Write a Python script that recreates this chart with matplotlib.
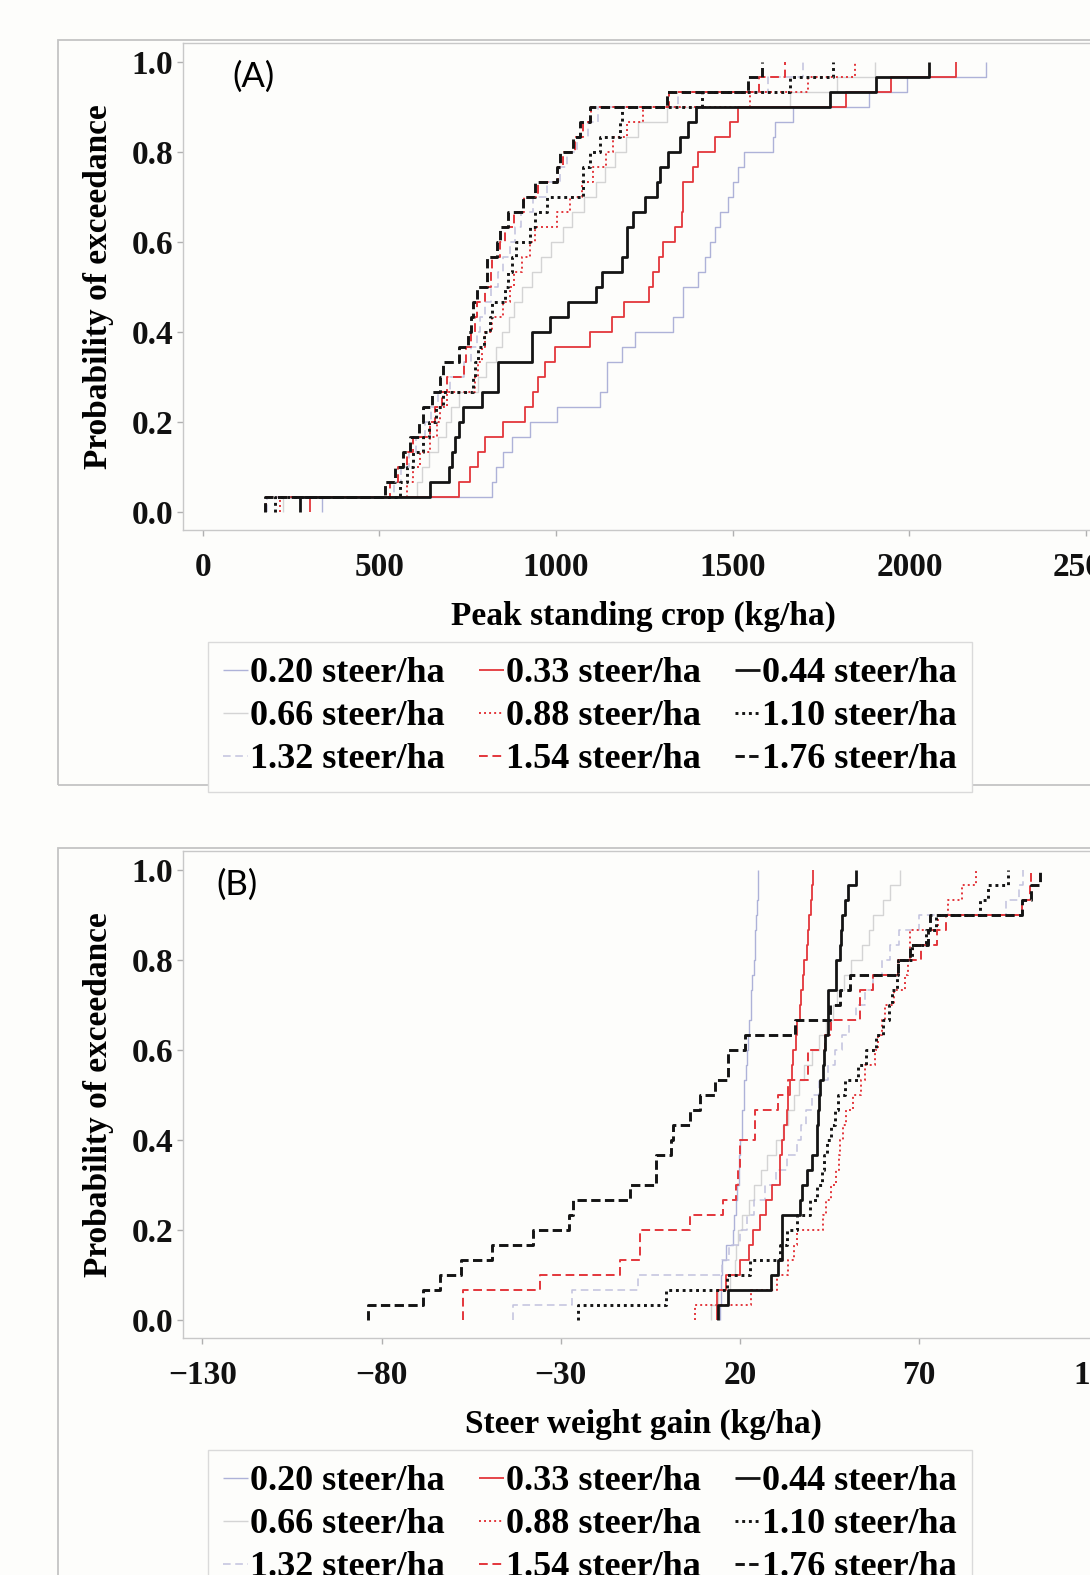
import numpy as np, matplotlib
matplotlib.use("Agg")
import matplotlib.pyplot as plt
from matplotlib.patches import Rectangle
from matplotlib.ticker import FormatStrFormatter

plt.rcParams['font.family'] = ['Liberation Serif', 'DejaVu Serif']
plt.rcParams['font.weight'] = 'bold'
plt.rcParams['axes.labelweight'] = 'bold'
plt.rcParams['axes.unicode_minus'] = True

rates = ["0.20", "0.33", "0.44", "0.66", "0.88", "1.10", "1.32", "1.54", "1.76"]

# (A) peak standing crop, kg/ha, 30 sorted outcomes per stocking rate
psc_020 = [337, 818, 830, 849, 874, 926, 1002, 1124, 1145, 1145, 1186, 1223, 1332, 1360, 1360,
           1403, 1422, 1436, 1450, 1464, 1488, 1502, 1516, 1532, 1613, 1620, 1670, 1887, 1994, 2216]
psc_033 = [304, 726, 757, 780, 800, 851, 912, 934, 950, 969, 997, 1096, 1157, 1192, 1264,
           1273, 1292, 1302, 1337, 1356, 1360, 1360, 1389, 1403, 1450, 1492, 1516, 1822, 1948, 2132]
psc_044 = [275, 643, 698, 705, 714, 724, 736, 790, 837, 837, 931, 931, 983, 1035, 1113,
           1129, 1186, 1200, 1200, 1219, 1252, 1285, 1294, 1318, 1351, 1374, 1396, 1775, 1906, 2055]
psc_066 = [228, 606, 622, 641, 665, 688, 702, 725, 778, 801, 829, 846, 866, 882, 905,
           931, 958, 985, 1020, 1046, 1080, 1112, 1139, 1168, 1197, 1231, 1313, 1662, 1794, 1903]
psc_088 = [219, 577, 596, 615, 643, 662, 672, 690, 770, 780, 790, 800, 820, 850, 870,
           880, 905, 926, 940, 1002, 1040, 1073, 1105, 1142, 1160, 1200, 1247, 1549, 1714, 1846]
psc_110 = [205, 558, 577, 596, 624, 640, 660, 681, 766, 770, 780, 795, 813, 820, 856,
           865, 875, 888, 926, 940, 973, 1077, 1077, 1096, 1124, 1181, 1186, 1412, 1662, 1785]
psc_132 = [183, 540, 560, 585, 605, 630, 645, 665, 700, 740, 760, 775, 785, 800, 815,
           835, 850, 870, 885, 900, 935, 975, 1010, 1030, 1060, 1090, 1120, 1346, 1600, 1700]
psc_154 = [180, 530, 554, 577, 596, 643, 657, 676, 690, 740, 745, 760, 770, 775, 800,
           815, 820, 840, 855, 880, 910, 950, 1005, 1020, 1055, 1075, 1100, 1320, 1575, 1648]
psc_176 = [176, 516, 544, 568, 587, 613, 624, 648, 672, 680, 724, 752, 760, 766, 775,
           804, 804, 832, 840, 865, 907, 940, 1002, 1011, 1049, 1068, 1096, 1313, 1544, 1582]

# (B) steer weight gain, kg/ha
swg_020 = [14.5, 14.6, 14.7, 14.9, 16.2, 18.1, 18.4, 18.9, 19.1, 19.6, 19.8, 20.0, 20.5, 20.7, 21.1,
           21.2, 21.7, 22.0, 22.3, 22.5, 23.0, 23.1, 23.5, 23.9, 24.1, 24.3, 24.6, 24.8, 24.9, 25.1]
swg_033 = [13.5, 13.6, 16.0, 20.0, 22.5, 23.7, 25.5, 27.4, 29.0, 31.1, 31.3, 31.6, 32.3, 33.0, 33.5,
           34.0, 34.5, 34.8, 35.6, 36.0, 36.7, 37.0, 37.5, 38.0, 38.6, 39.0, 39.4, 39.9, 40.2, 40.4]
swg_044 = [13.9, 16.7, 28.8, 30.7, 31.6, 31.6, 31.6, 36.7, 37.2, 38.6, 40.0, 41.4, 41.6, 41.8, 42.0,
           42.3, 43.2, 43.5, 43.7, 44.6, 44.6, 44.6, 46.9, 46.9, 47.9, 48.3, 48.4, 49.3, 50.2, 52.5]
swg_066 = [12.0, 14.0, 17.2, 18.5, 19.0, 19.5, 20.5, 22.5, 24.0, 26.0, 27.5, 30.0, 32.0, 33.5, 35.0,
           36.5, 38.0, 40.0, 42.0, 44.0, 46.0, 47.0, 49.0, 51.0, 54.0, 56.0, 57.2, 60.0, 61.8, 64.6]
swg_088 = [7.4, 23.2, 30.2, 33.5, 35.0, 35.8, 43.2, 44.0, 45.5, 46.9, 47.5, 47.9, 48.8, 49.5, 51.6,
           53.9, 55.0, 57.6, 58.6, 59.5, 60.4, 63.0, 66.0, 67.0, 67.4, 67.4, 75.3, 78.1, 82.0, 86.0]
swg_110 = [-25.1, -0.5, 16.3, 22.8, 31.1, 33.0, 35.8, 39.5, 41.4, 42.8, 43.5, 44.2, 45.5, 46.5, 47.4,
           49.3, 53.0, 55.3, 58.1, 60.0, 61.5, 62.5, 63.7, 64.1, 68.0, 72.0, 74.8, 86.9, 89.3, 94.8]
swg_132 = [-43.3, -27.0, -8.4, 14.9, 17.0, 20.0, 22.0, 24.0, 27.0, 30.0, 33.0, 36.0, 37.0, 38.5, 40.0,
           42.0, 44.5, 46.5, 48.5, 50.5, 52.5, 55.0, 57.0, 59.5, 62.0, 64.5, 70.0, 94.3, 98.0, 99.0]
swg_154 = [-57.2, -57.2, -35.8, -13.5, -7.9, -7.9, 6.0, 15.3, 19.0, 19.5, 20.0, 20.0, 24.2, 24.2, 30.7,
           33.5, 39.0, 39.0, 43.7, 45.5, 53.5, 53.5, 57.2, 64.1, 70.5, 75.0, 77.5, 98.8, 100.9, 101.3]
swg_176 = [-83.7, -68.4, -63.7, -57.7, -49.3, -37.7, -27.7, -26.7, -10.7, -3.3, -3.3, 0.9, 1.4, 6.0, 8.8,
           13.0, 16.7, 16.7, 21.4, 35.3, 45.1, 47.9, 50.7, 64.1, 67.4, 72.5, 73.0, 98.6, 101.3, 103.7]

panelA = [psc_020, psc_033, psc_044, psc_066, psc_088, psc_110, psc_132, psc_154, psc_176]
panelB = [swg_020, swg_033, swg_044, swg_066, swg_088, swg_110, swg_132, swg_154, swg_176]
xticksA = [0, 500, 1000, 1500, 2000, 2500]
xticksB = [-130, -80, -30, 20, 70, 120]
yticks = [0.0, 0.2, 0.4, 0.6, 0.8, 1.0]

RED, BLK = "#e3363b", "#141414"
style = {  # color, lw, dashes (None = solid)
    "0.20": ("#aeb2d8", 1.0, None), "0.33": (RED, 1.3, None), "0.44": (BLK, 2.0, None),
    "0.66": ("#d4d4d4", 1.0, None), "0.88": (RED, 1.4, (1, 1.6)), "1.10": (BLK, 2.1, (1, 1.3)),
    "1.32": ("#c2c2de", 1.1, (5, 3)), "1.54": (RED, 1.4, (4.5, 2.4)), "1.76": (BLK, 2.1, (3.2, 1.5)),
}
draw_order = ["0.66", "0.20", "1.32", "0.88", "0.33", "1.54", "1.10", "0.44", "1.76"]

W, H = 1090, 1575
BG = "#fdfdfb"
fig = plt.figure(figsize=(W / 100, H / 100), dpi=100, facecolor=BG)

def ecdf(ax, vals, rate):
    v = np.sort(np.asarray(vals, float)); n = len(v)
    xs = np.r_[v[0], v]; ys = np.r_[0, np.arange(1, n + 1) / n]
    c, lw, d = style[rate]
    ln, = ax.step(xs, ys, where="post", color=c, lw=lw, label=rate + " steer/ha",
                  solid_capstyle="butt", dash_capstyle="butt")
    if d: ln.set_dashes(d)
    return ln

def panel(dy, data, xticks, xlim, xlabel, tag, tagx):
    # outer frame of the panel
    fig.add_artist(Rectangle((58 / W, 1 - (dy + 785) / H), 1.2, 745 / H, transform=fig.transFigure,
                             fill=False, ec="#c4c4c4", lw=1.3))
    ax = fig.add_axes([183 / W, 1 - (dy + 530) / H, 920 / W, 487 / H], facecolor=BG)
    lines = {}
    for r in draw_order:
        lines[r] = ecdf(ax, data[rates.index(r)], r)
    ax.set_xlim(*xlim); ax.set_ylim(-0.0407, 1.0416)
    ax.set_xticks(xticks); ax.set_yticks(yticks)
    ax.yaxis.set_major_formatter(FormatStrFormatter("%.1f"))
    for s in ax.spines.values():
        s.set_color("#c8c8c8"); s.set_linewidth(1.0)
    ax.tick_params(axis="both", colors="#b0b0b0", labelcolor="#111111", labelsize=24, length=4, width=1)
    ax.tick_params(axis="x", pad=12)
    ax.tick_params(axis="y", pad=3)
    ax.set_xlabel(xlabel, fontsize=24)
    ax.xaxis.set_label_coords(0.5, -0.146)
    ax.xaxis.label.set_va("top")
    ax.set_ylabel("Probability of exceedance", fontsize=24)
    ax.yaxis.set_label_coords(-0.075, 0.5)
    fig.text(tagx / W, 1 - (dy + 77) / H, tag, fontsize=25, fontweight="normal",
             family=["Lato", "DejaVu Sans"], va="center", ha="left")
    order = [rates[i] for i in (0, 3, 6, 1, 4, 7, 2, 5, 8)]
    leg = fig.legend([lines[r] for r in order], [r + " steer/ha" for r in order], ncol=3,
                     loc="upper left", bbox_to_anchor=(208 / W, 1 - (dy + 642) / H), fontsize=26,
                     frameon=True, fancybox=False, edgecolor="#dadada", facecolor=BG, framealpha=1,
                     borderpad=0.42, borderaxespad=0, handlelength=0.68, handletextpad=0.06,
                     columnspacing=0.95, labelspacing=0.27)
    leg.get_frame().set_linewidth(1.0)
    return ax

panel(0, panelA, xticksA, (-55.8, 2548), "Peak standing crop (kg/ha)", "(A)", 232)
panel(808, panelB, xticksB, (-135.4, 121.3), "Steer weight gain (kg/ha)", "(B)", 216)

fig.savefig("out.png", dpi=100, facecolor=BG)
